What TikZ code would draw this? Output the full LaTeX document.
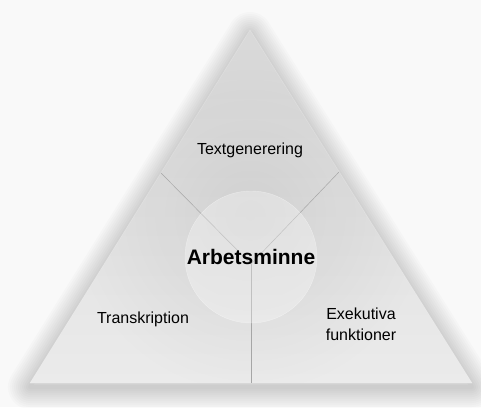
\documentclass[tikz,border=0pt]{standalone}
\usepackage{fontspec}
\setmainfont{Liberation Sans}
\usetikzlibrary{fadings}
\definecolor{paper}{HTML}{F9F9F9}
\definecolor{tritop}{HTML}{D9D9D9}
\definecolor{tribot}{HTML}{EBEBEB}
\definecolor{divline}{HTML}{A6A6A6}
\tikzfading[name=softcore, inner color=transparent!0, outer color=transparent!100]
\begin{document}
\begin{tikzpicture}[x=1pt, y=-1pt, line join=round,
  area/.style={font=\fontsize{16}{21}\selectfont, align=center},
  divider/.style={draw=divline, line width=0.5pt}]
  \fill[paper] (0,0) rectangle (481,407);
  \useasboundingbox (0,0) rectangle (481,407);
  \coordinate (apex) at (250,30); \coordinate (bl) at (30,383); \coordinate (br) at (472,383);
  % soft halo round the triangle
  \foreach \w in {44,40,...,4}
    \draw[line width=\w pt, black, opacity=0.014] ([yshift=-4pt]apex) -- ([yshift=-4pt]bl) -- ([yshift=-4pt]br) -- cycle;
  \shade[top color=tritop, bottom color=tribot] (apex) -- (bl) -- (br) -- cycle;
  \begin{scope}
    \clip (apex) -- (bl) -- (br) -- cycle;
    \fill[black, opacity=0.07, path fading=softcore] (250,215) circle (180);
  \end{scope}
  \draw[white, opacity=0.25, line width=0.5pt] (apex) -- (bl) -- (br) -- cycle;
  % three parts
  \coordinate (hub) at (251,264);
  \coordinate (cutL) at (161,173); \coordinate (cutR) at (339,172); \coordinate (cutB) at (251,383);
  \draw[divider] (hub) -- (cutL); \draw[divider] (hub) -- (cutR); \draw[divider] (hub) -- (cutB);
  \node[circle, minimum size=132pt, inner sep=0pt, fill=white, fill opacity=0.3, draw=white, draw opacity=0.4, text opacity=1, font=\fontsize{21}{25}\selectfont\bfseries] (core) at (251,257) {Arbetsminne};
  \node[area] (gen) at (250,150) {Textgenerering};
  \node[area] (trans) at (143,319) {Transkription};
  \node[area] (exec) at (361,324) {Exekutiva\\funktioner};
\end{tikzpicture}
\end{document}
